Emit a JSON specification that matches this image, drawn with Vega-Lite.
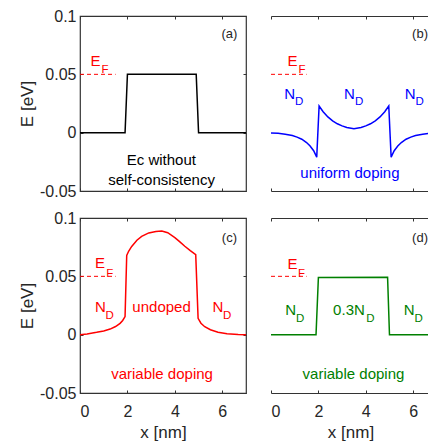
{
  "$schema": "https://vega.github.io/schema/vega-lite/v6.json",
  "padding": {"left": 17, "top": 7, "right": 0, "bottom": 0},
  "background": "white",
  "datasets": {
    "curves": [
      {"p":"a","x":0,"E":0},{"p":"a","x":1.9,"E":0},{"p":"a","x":2.0,"E":0.05},{"p":"a","x":4.9,"E":0.05},{"p":"a","x":5.0,"E":0},{"p":"a","x":7,"E":0},
      {"p":"b","x":0,"E":-0.0003},{"p":"b","x":0.3,"E":-0.0006},{"p":"b","x":0.6,"E":-0.0013},{"p":"b","x":0.9,"E":-0.0025},{"p":"b","x":1.1,"E":-0.0038},{"p":"b","x":1.3,"E":-0.0056},{"p":"b","x":1.5,"E":-0.0085},{"p":"b","x":1.65,"E":-0.0115},{"p":"b","x":1.8,"E":-0.0155},{"p":"b","x":1.93,"E":-0.021},
      {"p":"b","x":2.03,"E":0.0229},{"p":"b","x":2.2,"E":0.018},{"p":"b","x":2.4,"E":0.0135},{"p":"b","x":2.6,"E":0.0102},{"p":"b","x":2.8,"E":0.0076},{"p":"b","x":3.0,"E":0.0058},{"p":"b","x":3.2,"E":0.0044},{"p":"b","x":3.5,"E":0.0033},{"p":"b","x":3.8,"E":0.0044},{"p":"b","x":4.0,"E":0.0058},{"p":"b","x":4.2,"E":0.0076},{"p":"b","x":4.4,"E":0.0102},{"p":"b","x":4.6,"E":0.0135},{"p":"b","x":4.8,"E":0.018},{"p":"b","x":4.97,"E":0.0229},
      {"p":"b","x":5.07,"E":-0.021},{"p":"b","x":5.2,"E":-0.0155},{"p":"b","x":5.35,"E":-0.0115},{"p":"b","x":5.5,"E":-0.0085},{"p":"b","x":5.7,"E":-0.0056},{"p":"b","x":5.9,"E":-0.0038},{"p":"b","x":6.1,"E":-0.0025},{"p":"b","x":6.4,"E":-0.0013},{"p":"b","x":6.7,"E":-0.0006},{"p":"b","x":7,"E":-0.0003},
      {"p":"c","x":0,"E":0},{"p":"c","x":0.3,"E":0.0006},{"p":"c","x":0.7,"E":0.002},{"p":"c","x":1.0,"E":0.0032},{"p":"c","x":1.27,"E":0.0048},{"p":"c","x":1.5,"E":0.007},{"p":"c","x":1.69,"E":0.0097},{"p":"c","x":1.8,"E":0.0122},{"p":"c","x":1.9,"E":0.0155},
      {"p":"c","x":1.97,"E":0.068},{"p":"c","x":2.05,"E":0.0715},{"p":"c","x":2.18,"E":0.0756},{"p":"c","x":2.4,"E":0.081},{"p":"c","x":2.6,"E":0.0842},{"p":"c","x":2.9,"E":0.0872},{"p":"c","x":3.2,"E":0.0885},{"p":"c","x":3.45,"E":0.0888},{"p":"c","x":3.7,"E":0.0874},{"p":"c","x":4.0,"E":0.0832},{"p":"c","x":4.2,"E":0.0798},{"p":"c","x":4.42,"E":0.0758},{"p":"c","x":4.65,"E":0.072},{"p":"c","x":4.88,"E":0.0686},
      {"p":"c","x":4.98,"E":0.014},{"p":"c","x":5.1,"E":0.0098},{"p":"c","x":5.26,"E":0.0068},{"p":"c","x":5.5,"E":0.0042},{"p":"c","x":5.82,"E":0.002},{"p":"c","x":6.2,"E":0.0008},{"p":"c","x":6.67,"E":0.0001},{"p":"c","x":7,"E":0},
      {"p":"d","x":0,"E":0},{"p":"d","x":1.9,"E":0},{"p":"d","x":2.0,"E":0.049},{"p":"d","x":4.92,"E":0.0493},{"p":"d","x":5.0,"E":0},{"p":"d","x":7,"E":0}
    ],
    "ef": [{"x":0,"E":0.05},{"x":1.5,"E":0.05}],
    "texts": [
      {"p":"a","k":"ef","t":"E","x":0.65,"E":0.0614},
      {"p":"a","k":"efs","t":"F","x":1.05,"E":0.0539},
      {"p":"a","k":"main","t":"Ec without","x":3.43,"E":-0.0233},
      {"p":"a","k":"main","t":"self-consistency","x":3.44,"E":-0.0406},
      {"p":"a","k":"tag","t":"(a)","x":6.3,"E":0.0843},
      {"p":"b","k":"ef","t":"E","x":0.91,"E":0.0614},
      {"p":"b","k":"efs","t":"F","x":1.31,"E":0.0539},
      {"p":"b","k":"main","t":"N","x":0.79,"E":0.0333},
      {"p":"b","k":"sub","t":"D","x":1.19,"E":0.0265},
      {"p":"b","k":"main","t":"N","x":3.31,"E":0.0333},
      {"p":"b","k":"sub","t":"D","x":3.72,"E":0.0265},
      {"p":"b","k":"main","t":"N","x":5.87,"E":0.0333},
      {"p":"b","k":"sub","t":"D","x":6.27,"E":0.0265},
      {"p":"b","k":"main","t":"uniform doping","x":3.33,"E":-0.0348},
      {"p":"b","k":"tag","t":"(b)","x":6.29,"E":0.0843},
      {"p":"c","k":"ef","t":"E","x":0.84,"E":0.0613},
      {"p":"c","k":"efs","t":"F","x":1.25,"E":0.0521},
      {"p":"c","k":"main","t":"N","x":0.865,"E":0.024},
      {"p":"c","k":"sub","t":"D","x":1.25,"E":0.0164},
      {"p":"c","k":"main","t":"undoped","x":3.44,"E":0.0237},
      {"p":"c","k":"main","t":"N","x":5.82,"E":0.0237},
      {"p":"c","k":"sub","t":"D","x":6.21,"E":0.0164},
      {"p":"c","k":"main","t":"variable doping","x":3.46,"E":-0.034},
      {"p":"c","k":"tag","t":"(c)","x":6.3,"E":0.083},
      {"p":"d","k":"ef","t":"E","x":0.91,"E":0.0609},
      {"p":"d","k":"efs","t":"F","x":1.29,"E":0.0519},
      {"p":"d","k":"main","t":"N","x":0.83,"E":0.0211},
      {"p":"d","k":"sub","t":"D","x":1.23,"E":0.0136},
      {"p":"d","k":"main","t":"0.3N","x":3.29,"E":0.0211},
      {"p":"d","k":"sub","t":"D","x":4.19,"E":0.0136},
      {"p":"d","k":"main","t":"N","x":5.83,"E":0.0211},
      {"p":"d","k":"sub","t":"D","x":6.23,"E":0.0136},
      {"p":"d","k":"main","t":"variable doping","x":3.48,"E":-0.034},
      {"p":"d","k":"tag","t":"(d)","x":6.29,"E":0.083}
    ]
  },
  "vconcat": [
    {
      "hconcat": [
        {
          "width": 166, "height": 175,
          "layer": [
            {"data": {"name": "curves"}, "transform": [{"filter": "datum.p == 'a'"}],
             "mark": {"type": "line", "color": "#000000", "strokeWidth": 1.5},
             "encoding": {
               "x": {"field": "x", "type": "quantitative", "scale": {"domain": [0, 7], "nice": false}, "axis": {"orient": "bottom", "values": [0, 2, 4, 6], "labels": false, "title": null, "maxExtent": 0}},
               "y": {"field": "E", "type": "quantitative", "scale": {"domain": [-0.05, 0.1], "nice": false}, "axis": {"orient": "left", "values": [-0.05, 0, 0.05, 0.1], "title": "E [eV]", "labelExpr": "datum.value == 0 ? '0' : replace(format(datum.value, '.2~f'), '\u2212', '-')", "labelPadding": 7, "titlePadding": 3}}
             }},
            {"data": {"name": "ef"},
             "mark": {"type": "line", "color": "#ff0000", "strokeDash": [4, 3], "strokeWidth": 1},
             "encoding": {
               "x": {"field": "x", "type": "quantitative", "axis": {"orient": "top", "values": [0, 2, 4, 6], "labels": false, "title": null, "maxExtent": 0}},
               "y": {"field": "E", "type": "quantitative", "axis": {"orient": "right", "values": [-0.05, 0, 0.05, 0.1], "labels": false, "title": null, "maxExtent": 0}}
             }},
            {"data": {"name": "texts"}, "transform": [{"filter": "datum.p == 'a' && datum.k == 'ef'"}],
             "mark": {"type": "text", "color": "#ff0000", "fontSize": 15, "align": "center", "baseline": "middle"},
             "encoding": {"x": {"field": "x", "type": "quantitative", "axis": null}, "y": {"field": "E", "type": "quantitative", "axis": null}, "text": {"field": "t"}}},
            {"data": {"name": "texts"}, "transform": [{"filter": "datum.p == 'a' && datum.k == 'efs'"}],
             "mark": {"type": "text", "color": "#ff0000", "fontSize": 11.5, "align": "center", "baseline": "middle"},
             "encoding": {"x": {"field": "x", "type": "quantitative", "axis": null}, "y": {"field": "E", "type": "quantitative", "axis": null}, "text": {"field": "t"}}},
            {"data": {"name": "texts"}, "transform": [{"filter": "datum.p == 'a' && datum.k == 'main'"}],
             "mark": {"type": "text", "color": "#000000", "fontSize": 15, "align": "center", "baseline": "middle"},
             "encoding": {"x": {"field": "x", "type": "quantitative", "axis": null}, "y": {"field": "E", "type": "quantitative", "axis": null}, "text": {"field": "t"}}},
            {"data": {"name": "texts"}, "transform": [{"filter": "datum.p == 'a' && datum.k == 'tag'"}],
             "mark": {"type": "text", "color": "#262626", "fontSize": 13, "align": "center", "baseline": "middle"},
             "encoding": {"x": {"field": "x", "type": "quantitative", "axis": null}, "y": {"field": "E", "type": "quantitative", "axis": null}, "text": {"field": "t"}}}
          ]
        },
        {
          "width": 159, "height": 175,
          "view": {"stroke": null},
          "layer": [
            {"data": {"name": "curves"}, "transform": [{"filter": "datum.p == 'b'"}],
             "mark": {"type": "line", "color": "#0000ff", "strokeWidth": 1.5, "clip": true},
             "encoding": {
               "x": {"field": "x", "type": "quantitative", "scale": {"domain": [0, 6.71], "nice": false}, "axis": {"orient": "bottom", "domain": true, "values": [0, 2, 4, 6], "labels": false, "title": null, "maxExtent": 0}},
               "y": {"field": "E", "type": "quantitative", "scale": {"domain": [-0.05, 0.1], "nice": false}, "axis": {"orient": "left", "domain": true, "values": [-0.05, 0, 0.05, 0.1], "labels": false, "title": null, "maxExtent": 0}}
             }},
            {"data": {"name": "ef"},
             "mark": {"type": "line", "color": "#ff0000", "strokeDash": [4, 3], "strokeWidth": 1},
             "encoding": {
               "x": {"field": "x", "type": "quantitative", "axis": {"orient": "top", "domain": true, "values": [0, 2, 4, 6], "labels": false, "title": null, "maxExtent": 0}},
               "y": {"field": "E", "type": "quantitative", "axis": null}
             }},
            {"data": {"name": "texts"}, "transform": [{"filter": "datum.p == 'b' && datum.k == 'ef'"}],
             "mark": {"type": "text", "color": "#ff0000", "fontSize": 15, "align": "center", "baseline": "middle"},
             "encoding": {"x": {"field": "x", "type": "quantitative", "axis": null}, "y": {"field": "E", "type": "quantitative", "axis": null}, "text": {"field": "t"}}},
            {"data": {"name": "texts"}, "transform": [{"filter": "datum.p == 'b' && datum.k == 'efs'"}],
             "mark": {"type": "text", "color": "#ff0000", "fontSize": 11.5, "align": "center", "baseline": "middle"},
             "encoding": {"x": {"field": "x", "type": "quantitative", "axis": null}, "y": {"field": "E", "type": "quantitative", "axis": null}, "text": {"field": "t"}}},
            {"data": {"name": "texts"}, "transform": [{"filter": "datum.p == 'b' && datum.k == 'main'"}],
             "mark": {"type": "text", "color": "#0000ff", "fontSize": 15, "align": "center", "baseline": "middle"},
             "encoding": {"x": {"field": "x", "type": "quantitative", "axis": null}, "y": {"field": "E", "type": "quantitative", "axis": null}, "text": {"field": "t"}}},
            {"data": {"name": "texts"}, "transform": [{"filter": "datum.p == 'b' && datum.k == 'sub'"}],
             "mark": {"type": "text", "color": "#0000ff", "fontSize": 11.5, "align": "center", "baseline": "middle"},
             "encoding": {"x": {"field": "x", "type": "quantitative", "axis": null}, "y": {"field": "E", "type": "quantitative", "axis": null}, "text": {"field": "t"}}},
            {"data": {"name": "texts"}, "transform": [{"filter": "datum.p == 'b' && datum.k == 'tag'"}],
             "mark": {"type": "text", "color": "#262626", "fontSize": 13, "align": "center", "baseline": "middle"},
             "encoding": {"x": {"field": "x", "type": "quantitative", "axis": null}, "y": {"field": "E", "type": "quantitative", "axis": null}, "text": {"field": "t"}}}
          ]
        }
      ],
      "spacing": 19
    },
    {
      "hconcat": [
        {
          "width": 166, "height": 175,
          "layer": [
            {"data": {"name": "curves"}, "transform": [{"filter": "datum.p == 'c'"}],
             "mark": {"type": "line", "color": "#ff0000", "strokeWidth": 1.5},
             "encoding": {
               "x": {"field": "x", "type": "quantitative", "scale": {"domain": [0, 7], "nice": false}, "axis": {"orient": "bottom", "values": [0, 2, 4, 6], "title": "x [nm]", "labelPadding": 13, "titlePadding": 5}},
               "y": {"field": "E", "type": "quantitative", "scale": {"domain": [-0.05, 0.1], "nice": false}, "axis": {"orient": "left", "values": [-0.05, 0, 0.05, 0.1], "title": "E [eV]", "labelExpr": "datum.value == 0 ? '0' : replace(format(datum.value, '.2~f'), '\u2212', '-')", "labelPadding": 7, "titlePadding": 3}}
             }},
            {"data": {"name": "ef"},
             "mark": {"type": "line", "color": "#ff0000", "strokeDash": [4, 3], "strokeWidth": 1},
             "encoding": {
               "x": {"field": "x", "type": "quantitative", "axis": {"orient": "top", "values": [0, 2, 4, 6], "labels": false, "title": null, "maxExtent": 0}},
               "y": {"field": "E", "type": "quantitative", "axis": {"orient": "right", "values": [-0.05, 0, 0.05, 0.1], "labels": false, "title": null, "maxExtent": 0}}
             }},
            {"data": {"name": "texts"}, "transform": [{"filter": "datum.p == 'c' && datum.k == 'ef'"}],
             "mark": {"type": "text", "color": "#ff0000", "fontSize": 15, "align": "center", "baseline": "middle"},
             "encoding": {"x": {"field": "x", "type": "quantitative", "axis": null}, "y": {"field": "E", "type": "quantitative", "axis": null}, "text": {"field": "t"}}},
            {"data": {"name": "texts"}, "transform": [{"filter": "datum.p == 'c' && datum.k == 'efs'"}],
             "mark": {"type": "text", "color": "#ff0000", "fontSize": 11.5, "align": "center", "baseline": "middle"},
             "encoding": {"x": {"field": "x", "type": "quantitative", "axis": null}, "y": {"field": "E", "type": "quantitative", "axis": null}, "text": {"field": "t"}}},
            {"data": {"name": "texts"}, "transform": [{"filter": "datum.p == 'c' && datum.k == 'main'"}],
             "mark": {"type": "text", "color": "#ff0000", "fontSize": 15, "align": "center", "baseline": "middle"},
             "encoding": {"x": {"field": "x", "type": "quantitative", "axis": null}, "y": {"field": "E", "type": "quantitative", "axis": null}, "text": {"field": "t"}}},
            {"data": {"name": "texts"}, "transform": [{"filter": "datum.p == 'c' && datum.k == 'sub'"}],
             "mark": {"type": "text", "color": "#ff0000", "fontSize": 11.5, "align": "center", "baseline": "middle"},
             "encoding": {"x": {"field": "x", "type": "quantitative", "axis": null}, "y": {"field": "E", "type": "quantitative", "axis": null}, "text": {"field": "t"}}},
            {"data": {"name": "texts"}, "transform": [{"filter": "datum.p == 'c' && datum.k == 'tag'"}],
             "mark": {"type": "text", "color": "#262626", "fontSize": 13, "align": "center", "baseline": "middle"},
             "encoding": {"x": {"field": "x", "type": "quantitative", "axis": null}, "y": {"field": "E", "type": "quantitative", "axis": null}, "text": {"field": "t"}}}
          ]
        },
        {
          "width": 159, "height": 175,
          "view": {"stroke": null},
          "layer": [
            {"data": {"name": "curves"}, "transform": [{"filter": "datum.p == 'd'"}],
             "mark": {"type": "line", "color": "#008000", "strokeWidth": 1.5, "clip": true},
             "encoding": {
               "x": {"field": "x", "type": "quantitative", "scale": {"domain": [0, 6.71], "nice": false}, "axis": {"orient": "bottom", "domain": true, "values": [0, 2, 4, 6], "title": "x [nm]", "labelPadding": 13, "titlePadding": 5}},
               "y": {"field": "E", "type": "quantitative", "scale": {"domain": [-0.05, 0.1], "nice": false}, "axis": {"orient": "left", "domain": true, "values": [-0.05, 0, 0.05, 0.1], "labels": false, "title": null, "maxExtent": 0}}
             }},
            {"data": {"name": "ef"},
             "mark": {"type": "line", "color": "#ff0000", "strokeDash": [4, 3], "strokeWidth": 1},
             "encoding": {
               "x": {"field": "x", "type": "quantitative", "axis": {"orient": "top", "domain": true, "values": [0, 2, 4, 6], "labels": false, "title": null, "maxExtent": 0}},
               "y": {"field": "E", "type": "quantitative", "axis": null}
             }},
            {"data": {"name": "texts"}, "transform": [{"filter": "datum.p == 'd' && datum.k == 'ef'"}],
             "mark": {"type": "text", "color": "#ff0000", "fontSize": 15, "align": "center", "baseline": "middle"},
             "encoding": {"x": {"field": "x", "type": "quantitative", "axis": null}, "y": {"field": "E", "type": "quantitative", "axis": null}, "text": {"field": "t"}}},
            {"data": {"name": "texts"}, "transform": [{"filter": "datum.p == 'd' && datum.k == 'efs'"}],
             "mark": {"type": "text", "color": "#ff0000", "fontSize": 11.5, "align": "center", "baseline": "middle"},
             "encoding": {"x": {"field": "x", "type": "quantitative", "axis": null}, "y": {"field": "E", "type": "quantitative", "axis": null}, "text": {"field": "t"}}},
            {"data": {"name": "texts"}, "transform": [{"filter": "datum.p == 'd' && datum.k == 'main'"}],
             "mark": {"type": "text", "color": "#008000", "fontSize": 15, "align": "center", "baseline": "middle"},
             "encoding": {"x": {"field": "x", "type": "quantitative", "axis": null}, "y": {"field": "E", "type": "quantitative", "axis": null}, "text": {"field": "t"}}},
            {"data": {"name": "texts"}, "transform": [{"filter": "datum.p == 'd' && datum.k == 'sub'"}],
             "mark": {"type": "text", "color": "#008000", "fontSize": 11.5, "align": "center", "baseline": "middle"},
             "encoding": {"x": {"field": "x", "type": "quantitative", "axis": null}, "y": {"field": "E", "type": "quantitative", "axis": null}, "text": {"field": "t"}}},
            {"data": {"name": "texts"}, "transform": [{"filter": "datum.p == 'd' && datum.k == 'tag'"}],
             "mark": {"type": "text", "color": "#262626", "fontSize": 13, "align": "center", "baseline": "middle"},
             "encoding": {"x": {"field": "x", "type": "quantitative", "axis": null}, "y": {"field": "E", "type": "quantitative", "axis": null}, "text": {"field": "t"}}}
          ]
        }
      ],
      "spacing": 19
    }
  ],
  "spacing": 9,
  "config": {
    "view": {"stroke": "#333333", "strokeWidth": 1.2},
    "axis": {"domain": false, "domainColor": "#333333", "domainWidth": 1.2, "grid": false, "tickColor": "#333333", "tickSize": -3, "tickWidth": 1, "labelColor": "#262626", "labelFont": "Liberation Sans", "labelFontSize": 16, "titleFont": "Liberation Sans", "titleFontSize": 17, "titleFontWeight": "normal", "titleColor": "#262626", "minExtent": 0},
    "text": {"font": "Liberation Sans"}
  }
}
